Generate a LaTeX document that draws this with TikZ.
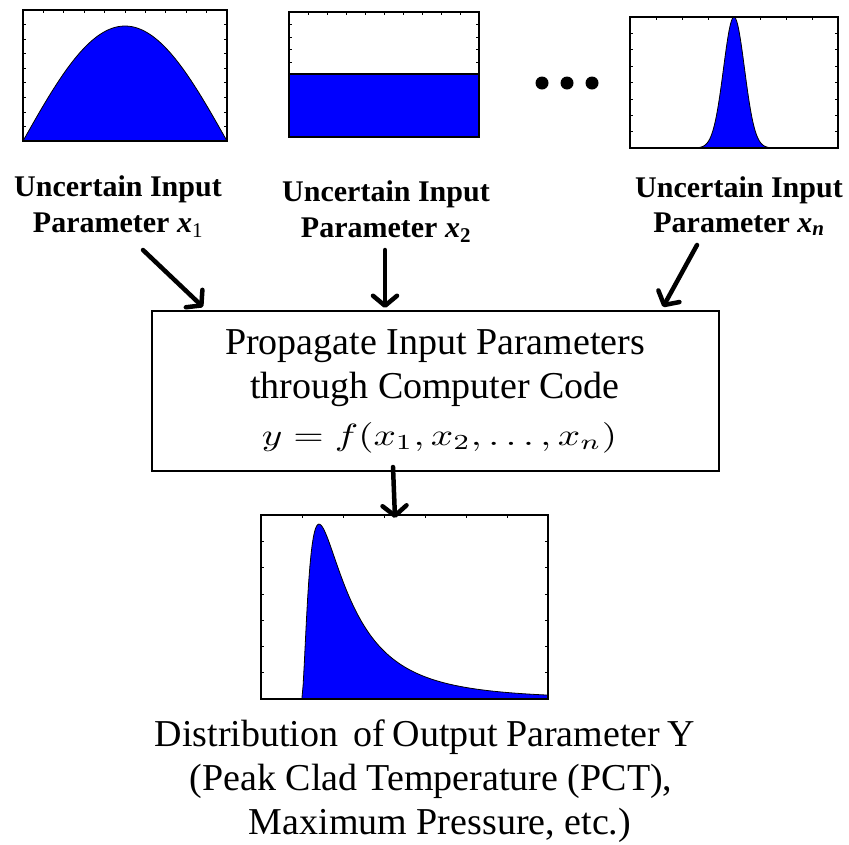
\documentclass[tikz,border=0pt]{standalone}
\usepackage{fontspec}
\setmainfont{Liberation Serif}
\usepackage{graphicx}
\usetikzlibrary{arrows.meta}
\begin{document}
\begin{tikzpicture}[x=1pt,y=-1pt,
  lbl/.style={font=\fontsize{30}{36}\selectfont\bfseries, anchor=base, inner sep=0pt},
  big/.style={font=\fontsize{38}{44}\selectfont, anchor=base, inner sep=0pt},
  arr/.style={line width=4.5pt, line cap=round, -{Straight Barb[length=10pt,width=24pt,round]}},
  frame/.style={line width=1.4pt},
  tick/.style={line width=0.7pt},
  curve/.style={line width=0.8pt}]
\useasboundingbox (0,0) rectangle (849,844);

% ---------- plot 1 (sine) ----------
\foreach \i in {1,...,9}{\draw[tick] ({23+20.4*\i},10) -- ++(0,3);}
\foreach \i in {1,...,8}{\draw[tick] (23,{10+14.556*\i}) -- ++(3,0); \draw[tick] (227,{10+14.556*\i}) -- ++(-3,0);}
\fill[blue] (23,141) -- plot[domain=0:180,samples=80] ({23+1.13333*\x},{141-115*sin(\x)}) -- cycle;
\draw[curve] plot[domain=0:180,samples=80] ({23+1.13333*\x},{141-115*sin(\x)});
\draw[frame] (23,10) rectangle (227,141);

% ---------- plot 2 (uniform) ----------
\foreach \i in {1,...,9}{\draw[tick] ({289+19*\i},12) -- ++(0,3);}
\foreach \i in {1,...,9}{\draw[tick] (289,{12+12.5*\i}) -- ++(3,0); \draw[tick] (479,{12+12.5*\i}) -- ++(-3,0);}
\fill[blue] (289,74) rectangle (479,137);
\draw[line width=2pt] (289,74) -- (479,74);
\draw[frame] (289,12) rectangle (479,137);

% ---------- dots ----------
\fill (542,83) circle[radius=6.5pt];
\fill (567,83) circle[radius=6.5pt];
\fill (592,83) circle[radius=6.5pt];

% ---------- plot 3 (normal) ----------
\foreach \i in {1,...,7}{\draw[tick] ({630+26*\i},17) -- ++(0,3);}
\foreach \i in {1,...,7}{\draw[tick] (630,{17+16.375*\i}) -- ++(3,0); \draw[tick] (838,{17+16.375*\i}) -- ++(-3,0);}
\fill[blue] (690,148) -- plot[domain=690:778,samples=120] (\x,{148-131*exp(-((\x-734)*(\x-734))/220.5)}) -- (778,148) -- cycle;
\draw[curve] plot[domain=690:778,samples=120] (\x,{148-131*exp(-((\x-734)*(\x-734))/220.5)});
\draw[frame] (630,17) rectangle (838,148);

% ---------- labels ----------
\node[lbl] (l1a) at (118,196) {Uncertain Input};
\node[lbl] (l1b) at (118,232) {Parameter {\itshape x}\textsubscript{\mdseries 1}};
\node[lbl] (l2a) at (386,201) {Uncertain Input};
\node[lbl] (l2b) at (386,237) {Parameter {\itshape x}\textsubscript{2}};
\node[lbl] (l3a) at (739,197) {Uncertain Input};
\node[lbl] (l3b) at (739,232) {Parameter {\itshape x}\textsubscript{\itshape n}};

% ---------- process box ----------
\node[draw, line width=1.3pt, minimum width=567pt, minimum height=160pt, inner sep=0pt] (box) at (435.5,391) {};
\node[big] (p1) at (435,354) {Propagate Input Parameters};
\node[big] (p2) at (435,398) {through Computer Code};
\node[anchor=base, inner sep=0pt] (p3) at (439.5,445) {\resizebox{355pt}{23pt}{$y=f(x_1,x_2,\ldots,x_n)$}};

% ---------- arrows ----------
\coordinate (t1) at (143,250); \coordinate (h1) at (203,307);
\coordinate (t2) at (385,250); \coordinate (h2) at (385,308);
\coordinate (t3) at (697,245); \coordinate (h3) at (663,307);
\coordinate (t4) at (393,467); \coordinate (h4) at (395,518);
\draw[arr] (t1) -- (h1);
\draw[arr] (t2) -- (h2);
\draw[arr] (t3) -- (h3);
\draw[arr] (t4) -- (h4);

% ---------- output plot ----------
\foreach \i in {1,...,6}{\draw[tick] ({261+41*\i},515) -- ++(0,3);}
\foreach \i in {1,...,6}{\draw[tick] (261,{515+26.286*\i}) -- ++(3,0); \draw[tick] (548,{515+26.286*\i}) -- ++(-3,0);}
\fill[blue] (302,699) -- plot[domain=1:247,samples=220] ({301+\x},{699-4944/\x*exp(-((ln(\x)-3.793)*(ln(\x)-3.793))/1.805)}) -- (548,699) -- cycle;
\draw[curve] (261,699) -- (302,699) -- plot[domain=1:247,samples=220] ({301+\x},{699-4944/\x*exp(-((ln(\x)-3.793)*(ln(\x)-3.793))/1.805)});
\draw[frame] (261,515) rectangle (548,699);

% ---------- output caption ----------
\node[big] (c1) at (425,746) {\spaceskip=0.2em Distribution \ of Output Parameter Y};
\node[big] (c2) at (431,790) {(Peak Clad Temperature (PCT),};
\node[big] (c3) at (440,834) {Maximum Pressure, etc.)};
\end{tikzpicture}
\end{document}
